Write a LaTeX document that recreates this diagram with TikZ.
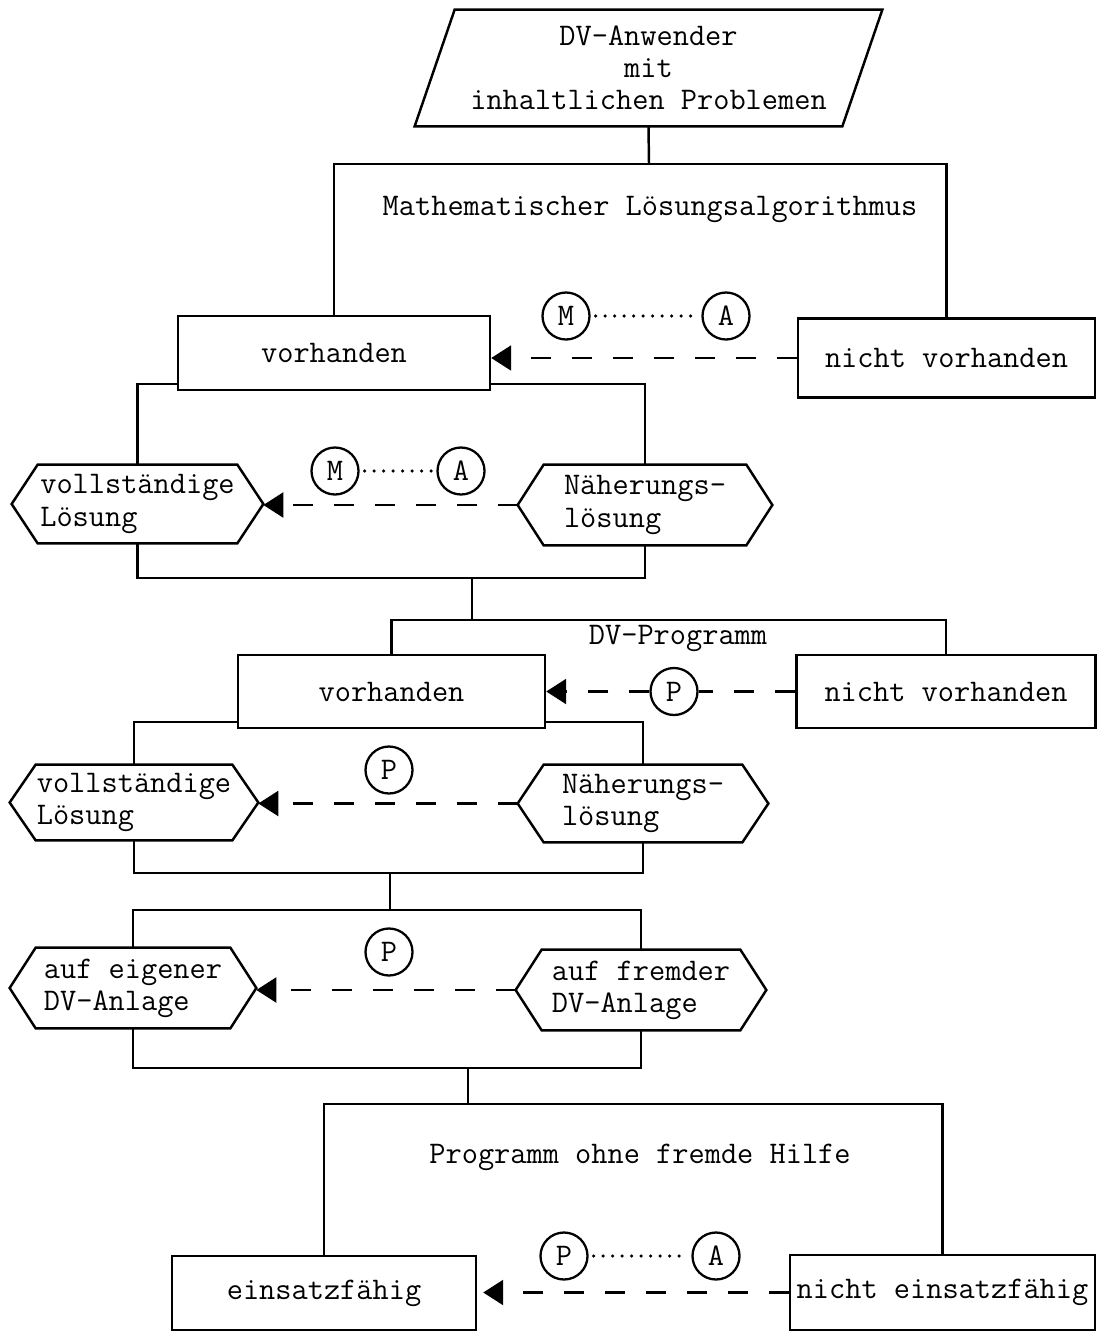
\documentclass[tikz,border=0pt]{standalone}
\usepackage{fontspec}
\usetikzlibrary{arrows.meta}

\tikzset{
  box/.style={draw, line width=1.4pt, inner sep=0pt},
  hexnode/.style={inner sep=0pt, align=left},
  circ/.style={draw, circle, line width=1.3pt, inner sep=0pt, minimum width=9mm, minimum height=9.4mm},
  tree/.style={line width=1.4pt},
  dashline/.style={line width=1.4pt, dash pattern=on 4mm off 4.2mm},
  dasharrow/.style={dashline, -{Triangle[length=4mm,width=5mm]}},
  dotline/.style={line width=2pt, line cap=round, dash pattern=on 0pt off 1.9mm, shorten <=1mm, shorten >=1mm},
}
% hexagon drawn round a plain node
\newcommand{\drawhex}[1]{%
  \draw[tree] (#1.west) -- ([xshift=5.2mm]#1.north west) -- ([xshift=-5.2mm]#1.north east)
    -- (#1.east) -- ([xshift=-5.2mm]#1.south east) -- ([xshift=5.2mm]#1.south west) -- cycle;}

\begin{document}
\begin{tikzpicture}[x=0.2mm, y=-0.2mm, font=\ttfamily\fontsize{17.9pt}{18.3pt}\selectfont]
    \useasboundingbox (0,0) rectangle (1097,1331);

    % Start
    \node (user) at (648.5,68) [minimum width=85.4mm, minimum height=23.2mm, inner sep=0pt, align=center]
        {DV-Anwender\\mit\\inhaltlichen Problemen};
    \draw[tree] ([xshift=-4mm]user.south west) -- ([xshift=4mm]user.north west)
        -- ([xshift=4mm]user.north east) -- ([xshift=-4mm]user.south east) -- cycle;

    % Algorithmus
    \node (algo) at (650,209) {Mathematischer Lösungsalgorithmus};
    \node (V1) at (334,353) [box, minimum width=62.4mm, minimum height=14.8mm] {vorhanden};
    \node (NV1) at (946.5,358) [box, minimum width=59.4mm, minimum height=15.8mm] {nicht vorhanden};
    \node (M1) at (566,316) [circ] {M};
    \node (A1) at (726,316) [circ] {A};

    \node (H1L) at (137.5,504) [hexnode, minimum width=50.2mm, minimum height=15.6mm] {vollständige\\Lösung};
    \node (H1R) at (645,505) [hexnode, minimum width=50.8mm, minimum height=16mm] {Näherungs-\\lösung};
    \drawhex{H1L} \drawhex{H1R}
    \node (M2) at (335,471) [circ] {M};
    \node (A2) at (461,471) [circ] {A};

    % Programm
    \node (prog) at (678,638) {DV-Programm};
    \node (V2) at (391.5,691.5) [box, minimum width=61.4mm, minimum height=14.6mm] {vorhanden};
    \node (NV2) at (946,691.5) [box, minimum width=59.8mm, minimum height=14.6mm] {nicht vorhanden};
    \node (P2) at (674,691.5) [circ] {P};

    \node (H2L) at (134,802.5) [hexnode, minimum width=49.6mm, minimum height=15mm] {vollständige\\Lösung};
    \node (H2R) at (643,803.5) [hexnode, minimum width=50mm, minimum height=15.4mm] {Näherungs-\\lösung};
    \drawhex{H2L} \drawhex{H2R}
    \node (P3) at (389,770) [circ] {P};

    % Anlage
    \node (H3L) at (133,988) [hexnode, minimum width=49.2mm, minimum height=16mm] {auf eigener\\DV-Anlage};
    \node (H3R) at (641,990) [hexnode, minimum width=50mm, minimum height=16mm] {auf fremder\\DV-Anlage};
    \drawhex{H3L} \drawhex{H3R}
    \node (P4) at (389,952) [circ] {P};

    % Hilfe
    \node (hilfe) at (640,1157) {Programm ohne fremde Hilfe};
    \node (E1) at (324,1293) [box, minimum width=60.8mm, minimum height=14.8mm] {einsatzfähig};
    \node (E2) at (942.5,1292.5) [box, minimum width=61mm, minimum height=15mm] {nicht einsatzfähig};
    \node (P5) at (564,1256) [circ] {P};
    \node (A5) at (716,1256) [circ] {A};

    % Baum
    \coordinate (bar1) at (649,164);
    \draw[tree] (user.south) -- (bar1);
    \draw[tree] (V1.north) |- (NV1.north |- bar1) -- (NV1.north);
    \draw[tree] (H1L.north) |- ([yshift=1.4mm]V1.south west);
    \draw[tree] (H1R.north) |- ([yshift=1.4mm]V1.south east);
    \coordinate (j1) at (472,578);
    \coordinate (j2) at (472,620);
    \draw[tree] (H1L.south) |- (H1R.south |- j1) -- (H1R.south);
    \draw[tree] (j1) -- (j2);
    \draw[tree] (V2.north) |- (NV2.north |- j2) -- (NV2.north);
    \draw[tree] (H2L.north) |- ([yshift=1.4mm]V2.south west);
    \draw[tree] (H2R.north) |- ([yshift=1.4mm]V2.south east);
    \coordinate (j3) at (390,873);
    \coordinate (j4) at (390,910);
    \draw[tree] (H2L.south) |- (H2R.south |- j3) -- (H2R.south);
    \draw[tree] (j3) -- (j4);
    \draw[tree] (H3L.north) |- (H3R.north |- j4) -- (H3R.north);
    \coordinate (j5) at (468,1068);
    \coordinate (j6) at (468,1104);
    \draw[tree] (H3L.south) |- (H3R.south |- j5) -- (H3R.south);
    \draw[tree] (j5) -- (j6);
    \draw[tree] (E1.north) |- (E2.north |- j6) -- (E2.north);

    % Rueckgriffe
    \draw[dasharrow] (NV1.west) -- (NV1.west -| V1.east);
    \draw[dotline] (M1.east) -- (A1.west);
    \draw[dasharrow] (H1R.west) -- (H1R.west -| H1L.east);
    \draw[dotline] (M2.east) -- (A2.west);
    \draw[dashline] (NV2.west) -- (P2.east);
    \draw[dasharrow] (P2.west) -- (P2.west -| V2.east);
    \draw[dasharrow] (H2R.west) -- (H2R.west -| H2L.east);
    \draw[dasharrow] (H3R.west) -- (H3R.west -| H3L.east);
    \draw[dasharrow] (E2.west) -- ([xshift=1.2mm]E2.west -| E1.east);
    \draw[dotline] (P5.east) -- (A5.west);
\end{tikzpicture}
\end{document}
